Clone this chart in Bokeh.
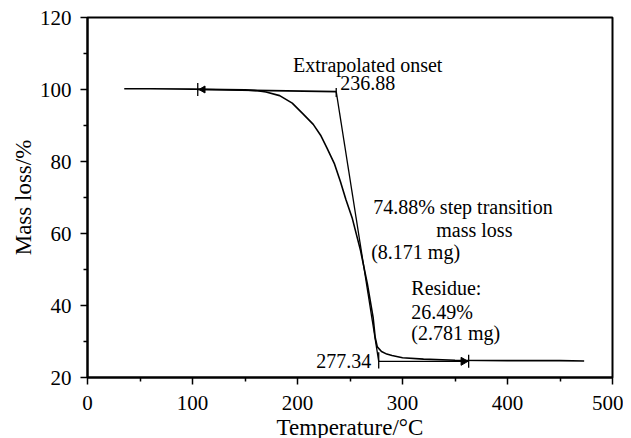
from bokeh.plotting import figure
from bokeh.models import Range1d, FixedTicker
from bokeh.core.properties import value
from bokeh.embed import file_html
from bokeh.resources import INLINE

# TGA curve (temperature in °C, mass in %)
temperature = [35, 60, 100, 130, 150, 160, 170, 183, 195, 205, 215, 222, 228, 235,
               241, 246, 252, 260, 266.5, 272, 274, 276, 280, 285, 290, 300, 320,
               350, 400, 450, 473]
mass = [100.2, 100.2, 100.1, 100.0, 99.9, 99.7, 99.3, 98.3, 96.2, 93.3, 90.3, 87.3,
        83.8, 79.5, 74.3, 69.5, 64.4, 55.3, 46.1, 36.7, 31.1, 28.5, 27.2, 26.5, 26.1,
        25.5, 25.1, 24.8, 24.7, 24.7, 24.6]

onset_T = 236.88
end_T = 277.34
onset_mass = 99.4
end_mass = 24.5
baseline_start_T = 105
residue_line_end_T = 363

x_ticks = [0, 100, 200, 300, 400, 500]
y_ticks = [20, 40, 60, 80, 100, 120]

FONT = "Liberation Serif"

p = figure(frame_width=525, frame_height=360, output_backend="svg", toolbar_location=None,
           x_range=Range1d(0, 500), y_range=Range1d(20, 120),
           min_border_left=87, min_border_right=11, min_border_top=17,
           min_border_bottom=40)
p.grid.visible = False
p.background_fill_color = "white"
p.border_fill_color = "white"
p.outline_line_color = "black"
p.outline_line_width = 2

for ax in (p.xaxis[0], p.yaxis[0]):
    ax.axis_line_width = 2
    ax.major_tick_line_width = 1.5
    ax.minor_tick_line_width = 1.5
    ax.major_tick_out = 7
    ax.major_tick_in = 0
    ax.minor_tick_out = 4
    ax.minor_tick_in = 0
    ax.major_label_text_font = FONT
    ax.major_label_text_font_size = "21px"
    ax.major_label_text_color = "black"
    ax.axis_label_text_font = FONT
    ax.axis_label_text_font_size = "23px"
    ax.axis_label_text_font_style = "normal"
    ax.axis_label_text_color = "black"

p.xaxis.ticker = FixedTicker(ticks=x_ticks, minor_ticks=[50, 150, 250, 350, 450])
p.yaxis.ticker = FixedTicker(ticks=y_ticks, minor_ticks=[30, 50, 70, 90, 110])
p.xaxis.axis_label = "Temperature/°C"
p.yaxis.axis_label = "Mass loss/%"
p.xaxis.major_label_standoff = 11
p.yaxis.major_label_standoff = 9
p.xaxis.axis_label_standoff = 2
p.yaxis.axis_label_standoff = 1

# main curve
p.line(temperature, mass, line_color="black", line_width=1.6)

# extrapolated baselines and tangent
p.line([baseline_start_T, onset_T], [100.0, onset_mass], line_color="black", line_width=1.6)
p.line([onset_T, end_T], [onset_mass, end_mass], line_color="black", line_width=1.3)
p.line([end_T, residue_line_end_T], [end_mass, end_mass], line_color="black", line_width=1.3)
p.segment(x0=[onset_T, end_T, baseline_start_T, residue_line_end_T],
          y0=[onset_mass - 1.5, end_mass - 2, 100.0 - 1.8, end_mass - 1.8],
          x1=[onset_T, end_T, baseline_start_T, residue_line_end_T],
          y1=[onset_mass + 1.0, end_mass + 2.5, 100.0 + 1.8, end_mass + 1.8],
          line_color="black", line_width=1.3)
p.scatter([baseline_start_T + 5], [100.0], marker="triangle", angle=1.5708,
          size=7, color="black")
p.scatter([residue_line_end_T - 5], [end_mass], marker="triangle", angle=-1.5708,
          size=8, color="black")

# annotations
left_labels = ["Extrapolated onset", "236.88", "74.88% step transition", "mass loss",
               "(8.171 mg)", "Residue:", "26.49%", "(2.781 mg)"]
left_x = [195.7, 240.7, 272.1, 332.2, 270.2, 308.4, 308.4, 308.4]
left_y = [106.9, 101.9, 67.4, 60.9, 54.8, 44.8, 38.1, 32.3]
p.text(left_x, left_y, text=left_labels, text_font=value(FONT),
       text_font_size="20px", text_align="left", text_baseline="middle",
       text_color="black")
p.text([270.2], [24.5], text=["277.34"], text_font=value(FONT),
       text_font_size="20px", text_align="right", text_baseline="middle",
       text_color="black")

open("out.html", "w").write(file_html(p, INLINE))
